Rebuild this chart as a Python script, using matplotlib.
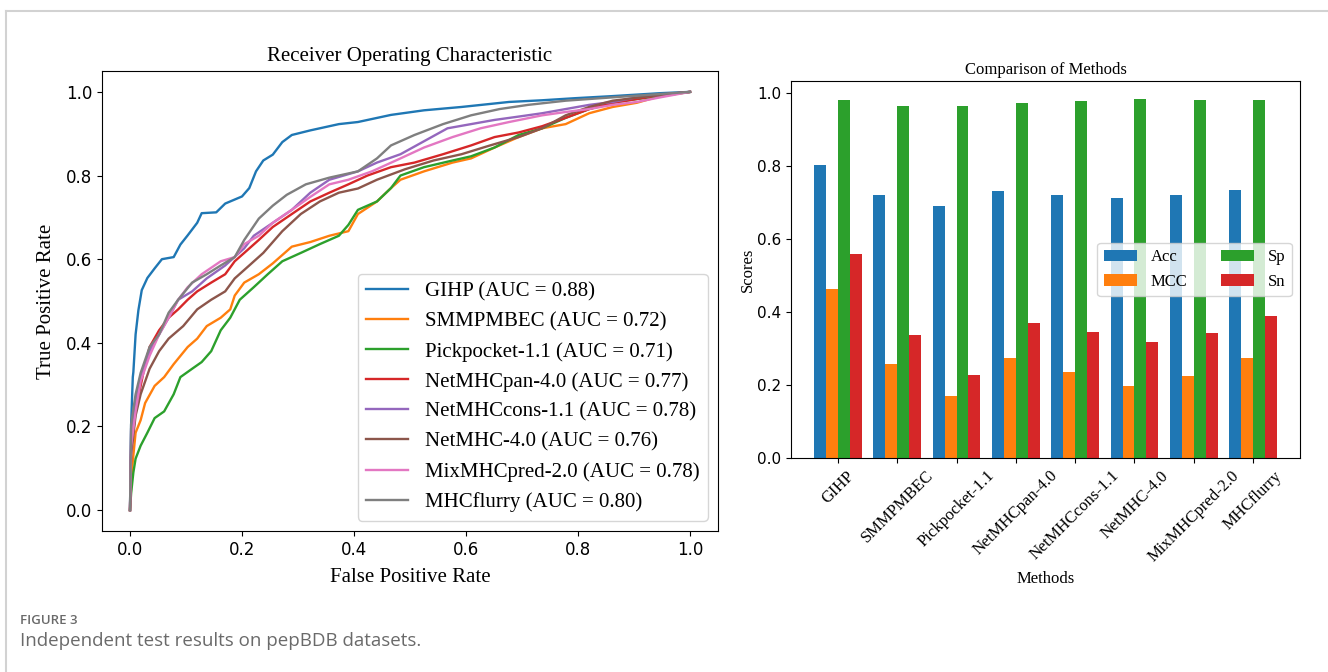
import matplotlib
matplotlib.use("Agg")
import matplotlib.pyplot as plt
from matplotlib.lines import Line2D
import numpy as np

SERIF = "Liberation Serif"

methods = ["GIHP", "SMMPMBEC", "Pickpocket-1.1", "NetMHCpan-4.0",
           "NetMHCcons-1.1", "NetMHC-4.0", "MixMHCpred-2.0", "MHCflurry"]
auc = [0.88, 0.72, 0.71, 0.77, 0.78, 0.76, 0.78, 0.80]

# metric scores per method
acc = [0.803, 0.722, 0.691, 0.733, 0.722, 0.714, 0.722, 0.736]
mcc = [0.465, 0.259, 0.170, 0.273, 0.237, 0.198, 0.226, 0.273]
sp = [0.981, 0.965, 0.965, 0.974, 0.979, 0.985, 0.981, 0.981]
sn = [0.560, 0.337, 0.229, 0.370, 0.345, 0.317, 0.342, 0.390]

# ROC curve points (false positive rate, true positive rate)
fpr_gihp = [0, 0.002, 0.005, 0.006, 0.010, 0.015, 0.021, 0.031, 0.044, 0.057, 0.078,
            0.090, 0.103, 0.120, 0.128, 0.154, 0.170, 0.200, 0.213, 0.225, 0.238,
            0.255, 0.272, 0.289, 0.322, 0.373, 0.407, 0.466, 0.525, 0.592, 0.677,
            0.736, 0.795, 0.862, 0.947, 1.0]
tpr_gihp = [0, 0.205, 0.318, 0.33, 0.42, 0.478, 0.526, 0.555, 0.578, 0.600, 0.605,
            0.635, 0.657, 0.687, 0.710, 0.712, 0.733, 0.750, 0.770, 0.810, 0.836,
            0.850, 0.880, 0.897, 0.908, 0.923, 0.928, 0.945, 0.956, 0.964, 0.976,
            0.980, 0.985, 0.990, 0.997, 1.0]

fpr_smm = [0, 0.003, 0.010, 0.019, 0.027, 0.044, 0.061, 0.078, 0.103, 0.120, 0.137,
           0.162, 0.179, 0.187, 0.204, 0.230, 0.255, 0.289, 0.322, 0.356, 0.390,
           0.407, 0.441, 0.466, 0.483, 0.525, 0.576, 0.609, 0.651, 0.694, 0.736,
           0.778, 0.820, 0.862, 0.905, 0.947, 1.0]
tpr_smm = [0, 0.09, 0.185, 0.215, 0.256, 0.297, 0.318, 0.349, 0.390, 0.410, 0.440,
           0.460, 0.480, 0.513, 0.544, 0.564, 0.590, 0.630, 0.641, 0.656, 0.667,
           0.708, 0.738, 0.770, 0.790, 0.810, 0.831, 0.841, 0.867, 0.892, 0.913,
           0.923, 0.949, 0.964, 0.974, 0.990, 1.0]

fpr_pick = [0, 0.002, 0.006, 0.010, 0.019, 0.031, 0.044, 0.061, 0.078, 0.090, 0.111,
            0.128, 0.145, 0.162, 0.179, 0.196, 0.221, 0.246, 0.272, 0.305, 0.339,
            0.373, 0.390, 0.407, 0.441, 0.466, 0.483, 0.525, 0.576, 0.609, 0.651,
            0.694, 0.736, 0.778, 0.820, 0.862, 0.905, 0.947, 1.0]
tpr_pick = [0, 0.04, 0.09, 0.123, 0.154, 0.185, 0.220, 0.236, 0.277, 0.318, 0.338,
            0.354, 0.380, 0.430, 0.460, 0.503, 0.533, 0.564, 0.595, 0.615, 0.636,
            0.656, 0.682, 0.718, 0.738, 0.770, 0.800, 0.820, 0.836, 0.846, 0.867,
            0.897, 0.913, 0.938, 0.959, 0.974, 0.983, 0.990, 1.0]

fpr_pan = [0, 0.002, 0.010, 0.019, 0.027, 0.035, 0.052, 0.069, 0.086, 0.103, 0.120,
           0.145, 0.170, 0.187, 0.204, 0.230, 0.255, 0.289, 0.322, 0.356, 0.390,
           0.424, 0.466, 0.508, 0.559, 0.609, 0.651, 0.694, 0.736, 0.778, 0.820,
           0.862, 0.905, 0.947, 1.0]
tpr_pan = [0, 0.144, 0.236, 0.297, 0.349, 0.390, 0.430, 0.460, 0.480, 0.503, 0.523,
           0.544, 0.564, 0.595, 0.615, 0.646, 0.677, 0.708, 0.738, 0.759, 0.779,
           0.800, 0.820, 0.831, 0.851, 0.872, 0.892, 0.903, 0.918, 0.938, 0.959,
           0.974, 0.983, 0.993, 1.0]

fpr_cons = [0, 0.002, 0.010, 0.019, 0.035, 0.052, 0.069, 0.086, 0.111, 0.137, 0.170,
            0.204, 0.221, 0.255, 0.289, 0.322, 0.356, 0.407, 0.441, 0.483, 0.525,
            0.567, 0.609, 0.651, 0.694, 0.736, 0.778, 0.820, 0.862, 0.905, 0.947, 1.0]
tpr_cons = [0, 0.195, 0.256, 0.318, 0.380, 0.420, 0.460, 0.503, 0.523, 0.554, 0.585,
            0.626, 0.656, 0.687, 0.718, 0.759, 0.790, 0.810, 0.831, 0.851, 0.882,
            0.913, 0.923, 0.933, 0.941, 0.949, 0.959, 0.969, 0.976, 0.987, 0.993, 1.0]

fpr_net = [0, 0.002, 0.010, 0.019, 0.035, 0.052, 0.069, 0.095, 0.120, 0.145, 0.170,
           0.187, 0.213, 0.238, 0.272, 0.305, 0.339, 0.373, 0.407, 0.441, 0.491,
           0.542, 0.592, 0.643, 0.694, 0.736, 0.778, 0.820, 0.862, 0.947, 1.0]
tpr_net = [0, 0.133, 0.226, 0.277, 0.338, 0.380, 0.410, 0.440, 0.480, 0.503, 0.523,
           0.554, 0.585, 0.615, 0.667, 0.708, 0.738, 0.759, 0.769, 0.790, 0.815,
           0.836, 0.851, 0.872, 0.892, 0.913, 0.944, 0.964, 0.979, 0.993, 1.0]

fpr_mix = [0, 0.002, 0.010, 0.019, 0.035, 0.052, 0.069, 0.086, 0.103, 0.128, 0.162,
           0.187, 0.204, 0.230, 0.255, 0.289, 0.322, 0.356, 0.390, 0.432, 0.483,
           0.525, 0.576, 0.626, 0.677, 0.736, 0.778, 0.820, 0.862, 0.905, 0.947, 1.0]
tpr_mix = [0, 0.154, 0.236, 0.308, 0.369, 0.420, 0.460, 0.503, 0.533, 0.564, 0.595,
           0.605, 0.636, 0.656, 0.687, 0.718, 0.749, 0.779, 0.790, 0.810, 0.841,
           0.867, 0.892, 0.913, 0.928, 0.944, 0.952, 0.959, 0.969, 0.976, 0.987, 1.0]

fpr_flurry = [0, 0.002, 0.010, 0.019, 0.035, 0.052, 0.069, 0.086, 0.111, 0.137, 0.162,
              0.187, 0.204, 0.230, 0.255, 0.280, 0.314, 0.356, 0.407, 0.441, 0.466,
              0.508, 0.559, 0.609, 0.660, 0.711, 0.778, 0.862, 0.947, 1.0]
tpr_flurry = [0, 0.205, 0.277, 0.328, 0.390, 0.420, 0.472, 0.503, 0.544, 0.564, 0.585,
              0.605, 0.646, 0.697, 0.728, 0.754, 0.779, 0.795, 0.810, 0.841, 0.872,
              0.897, 0.923, 0.944, 0.959, 0.969, 0.979, 0.987, 0.995, 1.0]

roc = [(fpr_gihp, tpr_gihp), (fpr_smm, tpr_smm), (fpr_pick, tpr_pick),
       (fpr_pan, tpr_pan), (fpr_cons, tpr_cons), (fpr_net, tpr_net),
       (fpr_mix, tpr_mix), (fpr_flurry, tpr_flurry)]

fig = plt.figure(figsize=(13.28, 6.72), dpi=100)

# left: ROC curves
ax1 = fig.add_axes([102 / 1328, 141 / 672, 616 / 1328, 460 / 672])
for i, (name, (f, t)) in enumerate(zip(methods, roc)):
    ax1.plot(f, t, color='C%d' % i, lw=1.7,
             label='{} (AUC = {:.2f})'.format(name, auc[i]))
ax1.set_title('Receiver Operating Characteristic', family=SERIF, fontsize=15, pad=7)
ax1.set_xlabel('False Positive Rate', family=SERIF, fontsize=15, labelpad=7)
ax1.set_ylabel('True Positive Rate', family=SERIF, fontsize=15, labelpad=7)
ax1.tick_params(labelsize=12)
ax1.legend(loc='lower right', prop={'family': SERIF, 'size': 15})

# right: grouped bars
ax2 = fig.add_axes([791 / 1328, 214 / 672, 509 / 1328, 377 / 672])
x = np.arange(len(methods))
w = 0.2
ax2.bar(x - 1.5 * w, acc, w, label='Acc')
ax2.bar(x - 0.5 * w, mcc, w, label='MCC')
ax2.bar(x + 0.5 * w, sp, w, label='Sp')
ax2.bar(x + 1.5 * w, sn, w, label='Sn')
ax2.set_xticks(x)
ax2.set_xticklabels(methods, rotation=45, family=SERIF, fontsize=12)
ax2.set_title('Comparison of Methods', family=SERIF, fontsize=12, pad=5)
ax2.set_xlabel('Methods', family=SERIF, fontsize=12)
ax2.set_ylabel('Scores', family=SERIF, fontsize=12, labelpad=1)
ax2.tick_params(axis='y', labelsize=11)
ax2.legend(loc='center right', ncol=2, prop={'family': SERIF, 'size': 12})

# page frame and caption
fig.add_artist(Line2D([6 / 1328, 1], [1 - 11 / 672, 1 - 11 / 672], color='#d2d2d2', lw=1.5))
fig.add_artist(Line2D([6 / 1328, 6 / 1328], [0, 1 - 11 / 672], color='#d2d2d2', lw=1.5))
fig.text(20 / 1328, 1 - 620 / 672, 'FIGURE 3', family='Open Sans', fontsize=9.5,
         weight='semibold', color='#6a6a6a', va='center')
fig.text(20 / 1328, 1 - 641 / 672, 'Independent test results on pepBDB datasets.',
         family='Open Sans', fontsize=13.5, color='#6a6a6a', va='center')

fig.savefig('out.png', dpi=100)
